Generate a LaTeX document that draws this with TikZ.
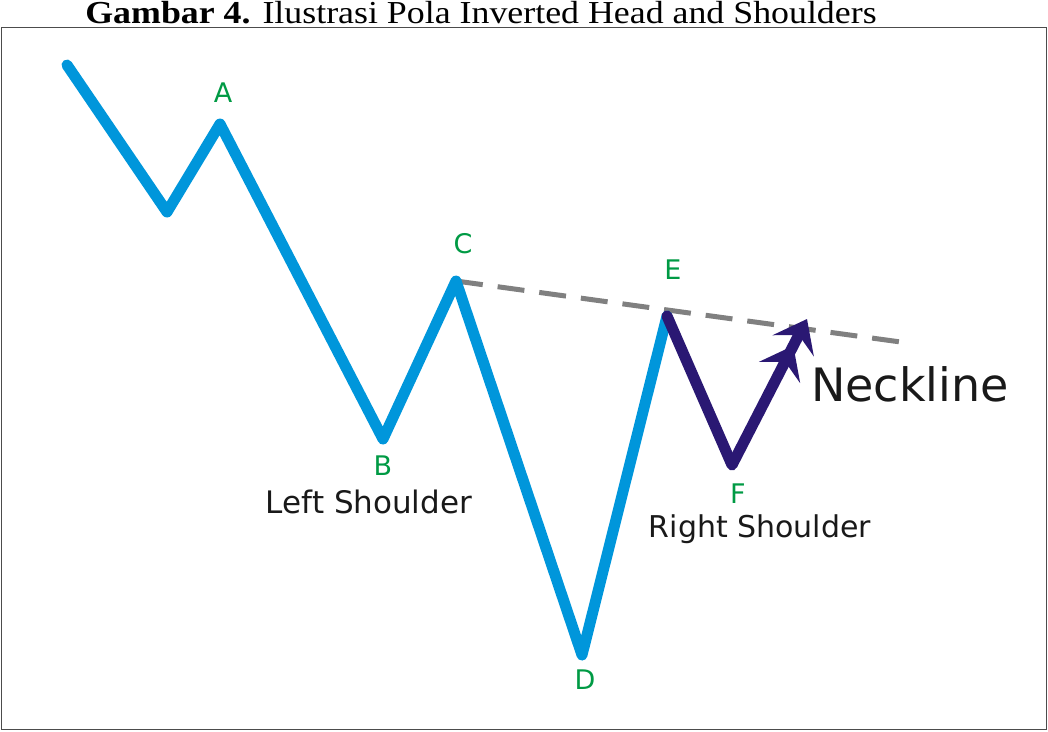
\documentclass[tikz,border=0pt]{standalone}
\usepackage{fontspec}
\setmainfont{Liberation Serif}
\newfontfamily\labelfont{DejaVu Sans}
\usetikzlibrary{positioning,arrows.meta}
\definecolor{trendblue}{RGB}{0,150,219}
\definecolor{shoulderblue}{RGB}{42,24,115}
\definecolor{pointgreen}{RGB}{0,154,68}
\definecolor{necklinegray}{RGB}{128,128,128}
\tikzset{
	pointlabel/.style={text=pointgreen, font=\labelfont\fontsize{27}{27}\selectfont, inner sep=0pt},
	partlabel/.style={text=black!90, font=\labelfont\fontsize{30}{30}\selectfont, inner sep=0pt},
}
\begin{document}
\begin{tikzpicture}[x=1pt, y=-1pt]
		\useasboundingbox (0,0) rectangle (1048,731);
		% Judul
		\node[font=\fontsize{32}{32}\selectfont, inner sep=0pt] (judul) at (481,13) {\scalebox{1.12}[1]{\textbf{Gambar 4.} Ilustrasi Pola Inverted Head and Shoulders}};
		\draw[line width=1.5pt, black!70] (1.5,27.5) rectangle (1046.5,729.5);
		
		% Titik harga
		\coordinate (awal) at (67,65);
		\coordinate (lembah) at (167,212);
		\coordinate (A) at (220,124);
		\coordinate (B) at (383,439);
		\coordinate (C) at (456,281);
		\coordinate (D) at (582,655);
		\coordinate (E) at (667,316);
		\coordinate (F) at (732,465);
		\coordinate (ujung) at (807,319);
		\coordinate (leher) at (908,343);
		
		% Neckline
		\draw[necklinegray, line width=5pt, dash pattern=on 27pt off 15pt] (C) -- (leher);
		
		% Pola harga
		\draw[trendblue, line width=11pt, line join=round, line cap=round] (awal) -- (lembah) -- (A) -- (B) -- (C) -- (D) -- (E);
		\draw[shoulderblue, line width=11pt, line join=round, line cap=round] (E) -- (F);
		\draw[shoulderblue, line width=11pt, line join=round, -{Stealth[length=30pt,width=46pt,inset=12pt] Stealth[length=30pt,width=46pt,inset=12pt]}] (F) -- (ujung);
		
		% Label
		\node[pointlabel] (labelA) at (223,93) {A};
		\node[pointlabel] (labelB) at (383,466) {B};
		\node[pointlabel] (labelC) at (463,244) {C};
		\node[pointlabel] (labelD) at (585,680) {D};
		\node[pointlabel] (labelE) at (673,270) {E};
		\node[pointlabel] (labelF) at (738,494) {F};
		\node[partlabel, font=\labelfont\fontsize{31}{31}\selectfont] (kiri) at (369,502) {Left Shoulder};
		\node[partlabel] (kanan) at (760,529) {Right Shoulder};
		\node[partlabel, font=\labelfont\fontsize{46}{46}\selectfont] (neckline) at (910,384) {Neckline};
	\end{tikzpicture}
\end{document}
